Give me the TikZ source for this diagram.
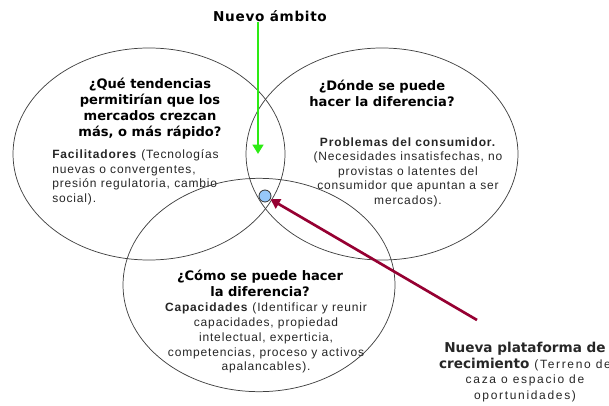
\documentclass[tikz,border=0pt]{standalone}
\usepackage{fontspec}
\setmainfont{Liberation Sans}
\newfontfamily\headfont{DejaVu Sans}
\newfontfamily\titlefont[LetterSpace=5]{DejaVu Sans}
\usetikzlibrary{arrows, arrows.meta, shapes, positioning}
\definecolor{ambgreen}{RGB}{45,235,20}
\definecolor{platred}{RGB}{150,0,50}
\definecolor{blobblue}{RGB}{150,200,250}

\begin{document}
\begin{tikzpicture}[x=0.75pt, y=-0.75pt]
\useasboundingbox (0,0) rectangle (609,406);
\tikzset{
  circ/.style={draw=black!75, line width=0.55pt, ellipse, minimum width=204pt, minimum height=159pt},
  head/.style={font=\headfont\bfseries\fontsize{9.8}{12}\selectfont, align=center},
  body/.style={font=\addfontfeatures{LetterSpace=7}\fontsize{9}{11.2}\selectfont, text=black!85, align=center, inner sep=0pt}
}
% the three areas
\node (left) [circ] at (149,154) {};
\node (right) [circ] at (382,154) {};
\node (bottom)[circ, minimum height=160pt] at (259,285) {};

% texts inside
\node (qleft) [head] at (150,109) {¿Qué tendencias\\permitirían que los\\mercados crezcan\\más, o más rápido?};
\node (tleft) [body, align=left, anchor=north west] at (52,149) {\textbf{Facilitadores} (Tecnologías\\nuevas o convergentes,\\presión regulatoria, cambio\\social).};
\node (qright) [head] at (382,93) {¿Dónde se puede\\hacer la diferencia?};
\node (tright) [body, font=\addfontfeatures{LetterSpace=7}\fontsize{9}{10.9}\selectfont] at (408,172) {\textbf{Problemas del consumidor.}\\(Necesidades insatisfechas, no\\provistas o latentes del\\consumidor que apuntan a ser\\mercados).};
\node (qbottom)[head] at (260,283) {¿Cómo se puede hacer\\la diferencia?};
\node (tbottom)[body] at (266,338) {\textbf{Capacidades} (Identificar y reunir\\capacidades, propiedad\\intelectual, experticia,\\competencias, proceso y activos\\apalancables).};

% new scope and platform
\node (ambito) [font=\titlefont\bfseries\fontsize{10.2}{12}\selectfont, anchor=base] at (270,22) {Nuevo ámbito};
\coordinate (ambtop) at (258,22);
\coordinate (ambend) at (258,154);
\draw [ambgreen, line width=2.2pt, -{Triangle[length=7pt, width=8pt]}] (ambtop)--(ambend);

\node (blob) [draw=black!80, fill=blobblue, circle, minimum size=9pt, inner sep=0pt, line width=0.6pt] at (265,196) {};
\node (plat) [body, font=\addfontfeatures{LetterSpace=14}\fontsize{9}{11.7}\selectfont, anchor=north] at (525,342) {{\headfont\bfseries\fontsize{10.2}{12}\selectfont Nueva plataforma de}\\{\headfont\bfseries\fontsize{10.2}{12}\selectfont crecimiento} (Terreno de\\caza o espacio de\\oportunidades)};
\coordinate (platstart) at (477,320);
\draw [platred, line width=2pt, -{Triangle[length=7pt, width=8pt]}] (platstart)--(blob);
\end{tikzpicture}
\end{document}
